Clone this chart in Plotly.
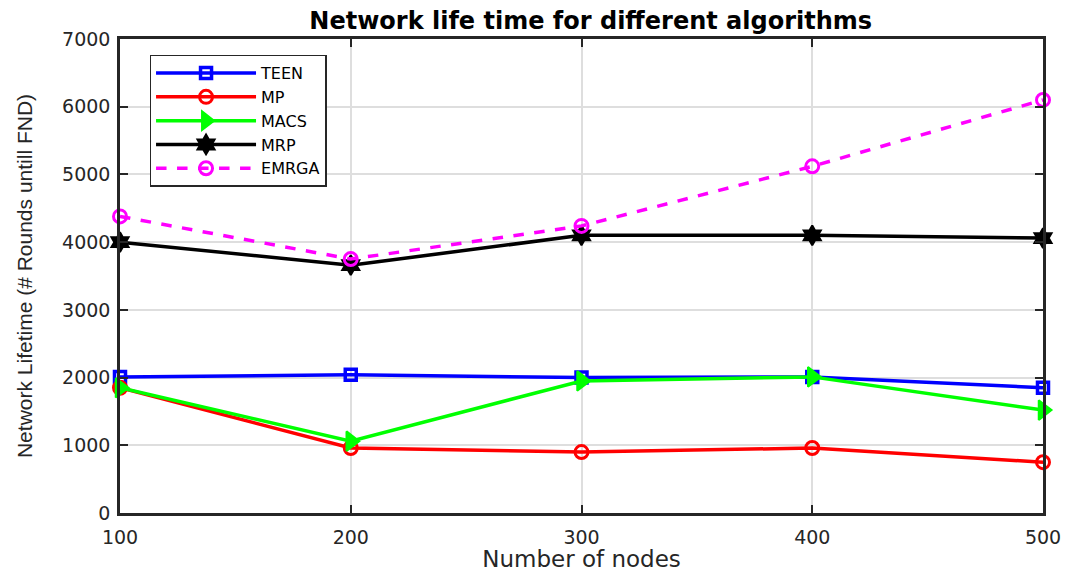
import plotly.graph_objects as go

nodes = [100, 200, 300, 400, 500]
teen = [2010, 2040, 2000, 2010, 1850]
mp = [1850, 960, 900, 960, 750]
macs = [1850, 1060, 1950, 2010, 1520]
mrp = [4000, 3660, 4100, 4100, 4060]
emrga = [4380, 3750, 4240, 5120, 6100]
y_ticks = [0, 1000, 2000, 3000, 4000, 5000, 6000, 7000]

fig = go.Figure()
series = [
    ("TEEN", teen, "#0000ff", "square-open", 11, "solid", 3.5),
    ("MP", mp, "#ff0000", "circle-open", 13, "solid", 3),
    ("MACS", macs, "#00ff00", "triangle-right", 17, "solid", 2),
    ("MRP", mrp, "#000000", "hexagram", 15, "solid", 2),
    ("EMRGA", emrga, "#ff00ff", "circle-open", 13, "dash", 3),
]
for name, ys, col, sym, sz, dash, mlw in series:
    fig.add_trace(go.Scatter(
        x=nodes, y=ys, name=name, mode="lines+markers",
        line=dict(color=col, width=3.5, dash=dash),
        marker=dict(symbol=sym, size=sz, color=col, line=dict(color=col, width=mlw)),
        cliponaxis=False,
    ))

wide = "DejaVu Sans, Verdana, sans-serif"
narrow = "Liberation Sans, Arial, sans-serif"
fig.update_layout(
    width=1069, height=572,
    margin=dict(l=120, r=26, t=39, b=59),
    paper_bgcolor="white", plot_bgcolor="white",
    title=dict(text="<b>Network life time for different algorithms</b>", xref="paper", x=0.51,
               xanchor="center", y=0.978, yanchor="top",
               font=dict(family=wide, size=24, color="black")),
    font=dict(family=wide, color="#262626"),
    showlegend=True,
    legend=dict(x=0.032, y=0.967, xanchor="left", yanchor="top",
                bgcolor="white", bordercolor="#262626", borderwidth=1.5,
                font=dict(family=wide, size=16, color="black"),
                tracegroupgap=0, itemwidth=100, entrywidth=200),
)
fig.update_xaxes(
    range=[100, 500], tickvals=nodes, ticks="inside", ticklen=8, tickwidth=2,
    tickcolor="#262626", showline=True, linecolor="#262626", linewidth=2.5, mirror="ticks",
    showgrid=True, gridcolor="#dedede", gridwidth=1.5, zeroline=False, ticklabelstandoff=5,
    automargin=False,
    tickfont=dict(family=wide, size=19, color="#262626"),
    title=dict(text="Number of nodes", font=dict(family=wide, size=23, color="#262626")),
)
fig.update_yaxes(
    range=[0, 7000], tickvals=y_ticks, ticks="inside",
    ticklen=8, tickwidth=2, tickcolor="#262626", showline=True, linecolor="#262626",
    linewidth=2.5, mirror="ticks", showgrid=True, gridcolor="#dedede", gridwidth=1.5,
    zeroline=False, ticklabelstandoff=3, tickfont=dict(family=wide, size=19, color="#262626"),
    title=dict(text="Network Lifetime (# Rounds untill FND)", font=dict(family=narrow, size=21, color="#262626"), standoff=24),
)
fig.write_html("out.html", config={"displayModeBar": False},
               post_script="document.body.style.margin='0px';")
